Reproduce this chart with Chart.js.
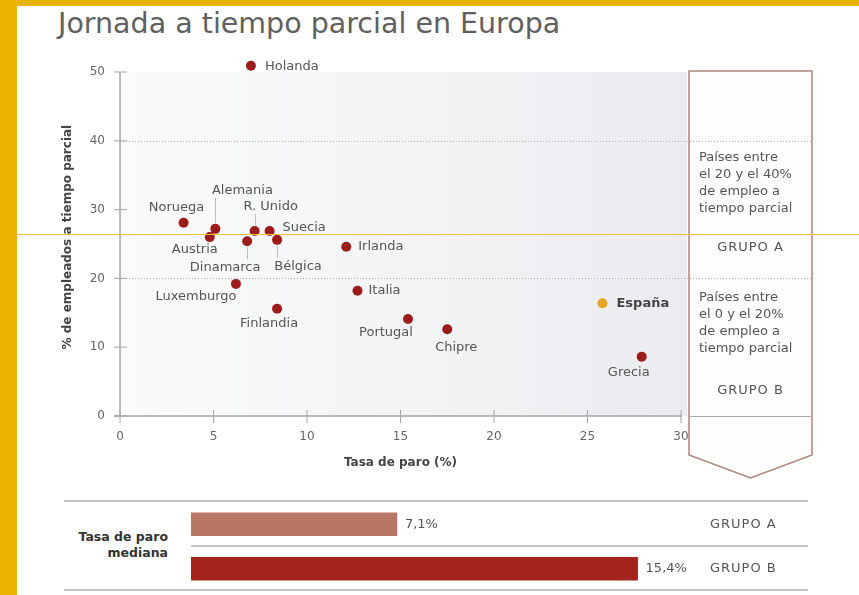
<!DOCTYPE html>
<html>
<head>
<meta charset="utf-8">
<script src="https://cdn.jsdelivr.net/npm/chart.js@4.4.1/dist/chart.umd.min.js"></script>
<style>
  html, body { margin: 0; padding: 0; background: #fff; }
  body { width: 859px; height: 595px; position: relative; overflow: hidden; font-family: "DejaVu Sans", sans-serif; }
  .abs { position: absolute; }
  #frameLeft { left: 0; top: 0; width: 17px; height: 595px; background: #ebb400; z-index: 6; }
  #frameTop { left: 0; top: 0; width: 859px; height: 6px; background: #ebb400; z-index: 6; }
  #scanLine { left: 17px; top: 234px; width: 842px; height: 1px; background: #f3c242; z-index: 6; }
  #title { left: 58px; top: 10px; font-size: 28.5px; line-height: 1; color: #606060; font-weight: 400; white-space: nowrap; }
  .panelText { left: 699px; font-size: 13px; line-height: 17px; color: #555; white-space: nowrap; z-index: 3; }
  .grupo { left: 689px; width: 123px; text-align: center; font-size: 13px; line-height: 17px; letter-spacing: 1px; color: #555; z-index: 3; }
  .hline { height: 2px; background: #c4c4c4; }
  #medianTitle { left: 40px; width: 128px; top: 529px; text-align: right; font-size: 12.5px; line-height: 16px; font-weight: bold; color: #333; }
  #scatter { left: 0; top: 0; z-index: 1; }
  #bars { left: 191px; top: 502px; z-index: 2; }
</style>
</head>
<body>
<div id="frameTop" class="abs"></div>
<div id="frameLeft" class="abs"></div>
<div id="scanLine" class="abs"></div>
<div id="title" class="abs">Jornada a tiempo parcial en Europa</div>

<canvas id="scatter" class="abs" width="859" height="595"></canvas>

<div class="abs panelText" style="top:148px">Países entre<br>el 20 y el 40%<br>de empleo a<br>tiempo parcial</div>
<div class="abs grupo" style="top:238px">GRUPO A</div>
<div class="abs panelText" style="top:288px">Países entre<br>el 0 y el 20%<br>de empleo a<br>tiempo parcial</div>
<div class="abs grupo" style="top:381px">GRUPO B</div>

<div class="abs hline" style="left:64px; width:744px; top:500px"></div>
<div class="abs hline" style="left:191px; width:617px; top:545px"></div>
<div class="abs hline" style="left:64px; width:744px; top:589px"></div>
<div id="medianTitle" class="abs">Tasa de paro<br>mediana</div>
<canvas id="bars" class="abs" width="638" height="89"></canvas>

<script>
// scatter data
const countries = ['Holanda', 'Noruega', 'Alemania', 'Austria', 'R. Unido', 'Suecia', 'Dinamarca', 'Bélgica',
  'Luxemburgo', 'Finlandia', 'Irlanda', 'Italia', 'Portugal', 'Chipre', 'España', 'Grecia'];
const unemployment = [7.0, 3.4, 5.1, 4.8, 7.2, 8.0, 6.8, 8.4, 6.2, 8.4, 12.1, 12.7, 15.4, 17.5, 25.8, 27.9];
const partTime = [50.9, 28.1, 27.2, 26.0, 26.9, 26.9, 25.4, 25.6, 19.2, 15.6, 24.6, 18.2, 14.1, 12.6, 16.4, 8.6];
const highlighted = 'España';

const xTicks = [0, 5, 10, 15, 20, 25, 30];
const yTicks = [0, 10, 20, 30, 40, 50];
const groupLimits = [40, 20, 0];

// bar data
const groupNames = ['GRUPO A', 'GRUPO B'];
const medianUnemployment = [7.1, 15.4];

const FONT = '"DejaVu Sans", sans-serif';
const RED = '#9c1c1c';
const ORANGE = '#e6a31e';

// where each label sits relative to its dot
const labelPlacement = {
  'Holanda': { dx: 14, dy: 1, align: 'left' },
  'Noruega': { dx: -7, dy: -15, align: 'center' },
  'Alemania': { dx: 27, dy: -38, align: 'center', leader: [-6, -31] },
  'Austria': { dx: -15, dy: 13, align: 'center' },
  'R. Unido': { dx: 16, dy: -24, align: 'center', leader: [-6, -17] },
  'Suecia': { dx: 13, dy: -3, align: 'left' },
  'Dinamarca': { dx: -22, dy: 26, align: 'center', leader: [6, 18] },
  'Bélgica': { dx: 21, dy: 27, align: 'center', leader: [6, 18] },
  'Luxemburgo': { dx: -40, dy: 13, align: 'center' },
  'Finlandia': { dx: -8, dy: 15, align: 'center' },
  'Irlanda': { dx: 12, dy: 0, align: 'left' },
  'Italia': { dx: 11, dy: 0, align: 'left' },
  'Portugal': { dx: -22, dy: 14, align: 'center' },
  'Chipre': { dx: 9, dy: 18, align: 'center' },
  'España': { dx: 14, dy: 0, align: 'left' },
  'Grecia': { dx: -13, dy: 16, align: 'center' }
};

const panel = { left: 689, right: 812, sideBottom: 455, tip: 478 };

const decor = {
  id: 'decor',
  beforeDatasetsDraw(chart) {
    const { ctx, chartArea: a, scales: { x, y } } = chart;
    const top = y.getPixelForValue(50);
    ctx.save();
    // plot background
    const g = ctx.createLinearGradient(a.left, 0, panel.left, 0);
    g.addColorStop(0, '#fbfbfb');
    g.addColorStop(1, '#eaecef');
    ctx.fillStyle = g;
    ctx.fillRect(a.left, top, panel.left - a.left - 2, a.bottom - top);

    // group panel
    ctx.fillStyle = '#fdfdfd';
    ctx.strokeStyle = '#b08478';
    ctx.lineWidth = 1.5;
    ctx.beginPath();
    ctx.moveTo(panel.left, top - 1);
    ctx.lineTo(panel.right, top - 1);
    ctx.lineTo(panel.right, panel.sideBottom);
    ctx.lineTo((panel.left + panel.right) / 2, panel.tip);
    ctx.lineTo(panel.left, panel.sideBottom);
    ctx.closePath();
    ctx.fill();
    ctx.stroke();

    // group limits (dotted in the plot, solid at 0 inside the panel)
    groupLimits.forEach(v => {
      const py = Math.round(y.getPixelForValue(v)) + 0.5;
      ctx.strokeStyle = '#aaa';
      ctx.lineWidth = 1;
      ctx.setLineDash(v === 0 ? [] : [1, 2]);
      ctx.beginPath();
      ctx.moveTo(v === 0 ? panel.left : a.left, py);
      ctx.lineTo(panel.right, py);
      ctx.stroke();
    });
    ctx.setLineDash([]);

    // axes with crossing ticks
    ctx.strokeStyle = '#a6a6a6';
    ctx.lineWidth = 1.5;
    const x0 = x.getPixelForValue(0), y0 = y.getPixelForValue(0);
    ctx.beginPath();
    ctx.moveTo(x0, y0);
    ctx.lineTo(x0, top);
    ctx.moveTo(x0 - 6, y0);
    ctx.lineTo(x.getPixelForValue(30) + 1, y0);
    ctx.stroke();
    ctx.lineWidth = 1;
    yTicks.forEach(v => {
      const py = y.getPixelForValue(v);
      ctx.beginPath();
      ctx.moveTo(x0 - 6, py);
      ctx.lineTo(x0 + 7, py);
      ctx.stroke();
    });
    xTicks.forEach(v => {
      const px = x.getPixelForValue(v);
      ctx.beginPath();
      ctx.moveTo(px, y0 - 6);
      ctx.lineTo(px, y0 + 7);
      ctx.stroke();
    });
    ctx.restore();
  },
  afterDatasetsDraw(chart) {
    const { ctx } = chart;
    const pts = chart.getDatasetMeta(0).data;
    ctx.save();
    ctx.textBaseline = 'middle';
    countries.forEach((name, i) => {
      const p = pts[i];
      const place = labelPlacement[name];
      if (place.leader) {
        ctx.strokeStyle = '#bdbdbd';
        ctx.lineWidth = 1;
        ctx.beginPath();
        ctx.moveTo(Math.round(p.x) + 0.5, p.y + place.leader[0]);
        ctx.lineTo(Math.round(p.x) + 0.5, p.y + place.leader[1]);
        ctx.stroke();
      }
      const bold = name === highlighted;
      ctx.font = (bold ? 'bold ' : '') + '13px ' + FONT;
      ctx.fillStyle = bold ? '#444' : '#555';
      ctx.textAlign = place.align;
      ctx.fillText(name, p.x + place.dx, p.y + place.dy);
    });
    ctx.restore();
  }
};

new Chart(document.getElementById('scatter'), {
  type: 'scatter',
  data: {
    datasets: [{
      data: countries.map((c, i) => ({ x: unemployment[i], y: partTime[i] })),
      pointRadius: 5,
      pointBorderWidth: 0,
      backgroundColor: countries.map(c => c === highlighted ? ORANGE : RED)
    }]
  },
  options: {
    responsive: false,
    animation: false,
    events: [],
    // y runs to 52 so the Holanda dot (just above 50) stays inside the area; ticks stop at 50
    layout: { padding: { left: 61, top: 58.24, right: 178, bottom: 125 } },
    plugins: { legend: { display: false }, tooltip: { enabled: false } },
    scales: {
      x: {
        type: 'linear', min: 0, max: 30,
        grid: { display: false, drawTicks: false },
        border: { display: false },
        afterBuildTicks: s => { s.ticks = xTicks.map(v => ({ value: v })); },
        ticks: { padding: 14, color: '#666', font: { family: FONT, size: 12 } },
        title: { display: true, text: 'Tasa de paro (%)', color: '#444', padding: 0,
          font: { family: FONT, size: 12, weight: 'bold' } },
        afterFit: s => { s.height = 54; }
      },
      y: {
        type: 'linear', min: 0, max: 52,
        grid: { display: false, drawTicks: false },
        border: { display: false },
        afterBuildTicks: s => { s.ticks = yTicks.map(v => ({ value: v })); },
        ticks: { padding: 15, color: '#666', font: { family: FONT, size: 12 } },
        title: { display: true, text: '% de empleados a tiempo parcial', color: '#444', padding: 0,
          font: { family: FONT, size: 12, weight: 'bold' } },
        afterFit: s => { s.width = 59; }
      }
    }
  },
  plugins: [decor]
});

const barLabels = {
  id: 'barLabels',
  afterDatasetsDraw(chart) {
    const { ctx } = chart;
    ctx.save();
    ctx.textBaseline = 'middle';
    ctx.fillStyle = '#555';
    ctx.font = '13px ' + FONT;
    chart.getDatasetMeta(0).data.forEach((bar, i) => {
      ctx.textAlign = 'left';
      ctx.fillText(medianUnemployment[i].toFixed(1).replace('.', ',') + '%', bar.x + 8, bar.y);
      if ('letterSpacing' in ctx) ctx.letterSpacing = '1px';
      ctx.fillText(groupNames[i], 710 - 191, bar.y);
      if ('letterSpacing' in ctx) ctx.letterSpacing = '0px';
    });
    ctx.restore();
  }
};

new Chart(document.getElementById('bars'), {
  type: 'bar',
  data: {
    labels: groupNames,
    datasets: [{
      data: medianUnemployment,
      backgroundColor: ['#b87667', '#a3241c'],
      barThickness: 23
    }]
  },
  options: {
    indexAxis: 'y',
    responsive: false,
    animation: false,
    events: [],
    layout: { padding: 0 },
    plugins: { legend: { display: false }, tooltip: { enabled: false } },
    scales: {
      x: { display: false, min: 0, max: 22 },
      y: { display: false }
    }
  },
  plugins: [barLabels]
});
</script>
</body>
</html>
